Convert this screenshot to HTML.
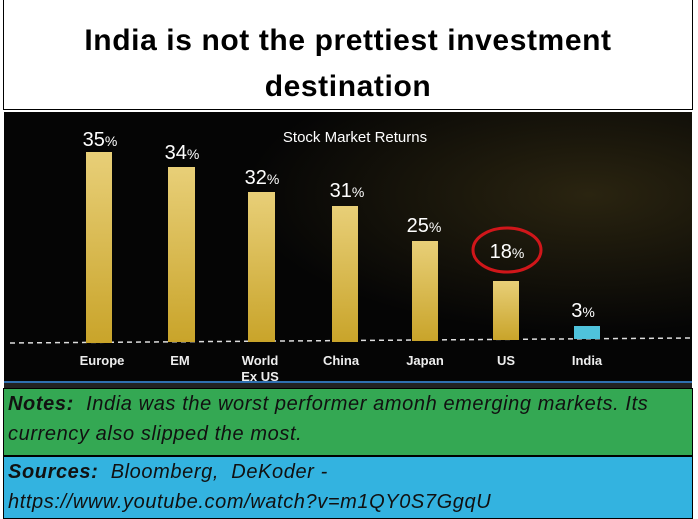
<!DOCTYPE html><html><head><style>
body{margin:0;width:698px;height:519px;background:#fff;font-family:"Liberation Sans",sans-serif;position:relative;overflow:hidden}
.t{position:absolute;left:3px;top:0;width:690px;height:110px;border:1px solid #000;border-top:none;text-align:center;font-weight:bold;font-size:30px;letter-spacing:0.6px;line-height:46px;padding-top:18px;box-sizing:border-box}
.n{position:absolute;left:3px;width:690px;box-sizing:border-box;border:1px solid #000;font-style:italic;font-size:20px;letter-spacing:0.6px;line-height:30px;padding-left:4px;color:#111;white-space:nowrap}
</style></head><body>
<div class="t">India is not the prettiest investment<br>destination</div>
<svg style="position:absolute;left:4px;top:112px" width="688" height="276" viewBox="4 112 688 276">
<defs><linearGradient id="g" x1="0" y1="0" x2="0" y2="1"><stop offset="0" stop-color="#e8cf78"/><stop offset="1" stop-color="#c9a42a"/></linearGradient>
<radialGradient id="bg" cx="0.85" cy="0.3" r="0.5"><stop offset="0" stop-color="#2a2410"/><stop offset="1" stop-color="#050505"/></radialGradient></defs>
<rect x="4" y="112" width="688" height="276" fill="url(#bg)"/>
<rect x="4" y="381" width="688" height="2" fill="#2f6fb0"/>
<rect x="4" y="383" width="688" height="5" fill="#222"/>
<line x1="10" y1="343" x2="692" y2="338" stroke="#ddd" stroke-width="1.5" stroke-dasharray="5,4"/>
<g fill="url(#g)">
<rect x="86" y="152" width="26" height="191"/><rect x="168" y="167" width="27" height="175"/>
<rect x="248" y="192" width="27" height="150"/><rect x="332" y="206" width="26" height="136"/>
<rect x="412" y="241" width="26" height="100"/><rect x="493" y="281" width="26" height="59"/></g>
<rect x="574" y="326" width="26" height="13" fill="#4fc3dc"/>
<g fill="#fff" font-size="20" text-anchor="middle" font-family="Liberation Sans Narrow,Liberation Sans,sans-serif">
<text x="100" y="146">35<tspan font-size="14">%</tspan></text>
<text x="182" y="159">34<tspan font-size="14">%</tspan></text>
<text x="262" y="184">32<tspan font-size="14">%</tspan></text>
<text x="347" y="197">31<tspan font-size="14">%</tspan></text>
<text x="424" y="232">25<tspan font-size="14">%</tspan></text>
<text x="507" y="258">18<tspan font-size="14">%</tspan></text>
<text x="583" y="317">3<tspan font-size="14">%</tspan></text>
<text x="355" y="142" font-size="15">Stock Market Returns</text>
</g>
<ellipse cx="507" cy="250" rx="34" ry="22" fill="none" stroke="#d0161a" stroke-width="3"/>
<g fill="#eee" font-size="13" font-weight="bold" text-anchor="middle">
<text x="102" y="365">Europe</text><text x="180" y="365">EM</text><text x="260" y="365">World</text><text x="260" y="381">Ex US</text>
<text x="341" y="365">China</text><text x="425" y="365">Japan</text><text x="506" y="365">US</text><text x="587" y="365">India</text></g>
</svg>
<div class="n" style="top:388px;height:68px;background:#34a853"><b>Notes:</b>&nbsp; India was the worst performer amonh emerging markets. Its<br>currency also slipped the most.</div>
<div class="n" style="top:456px;height:63px;background:#33b3e0"><b>Sources:</b>&nbsp; Bloomberg,&nbsp; DeKoder -<br>https://www.youtube.com/watch?v=m1QY0S7GgqU</div>
</body></html>
